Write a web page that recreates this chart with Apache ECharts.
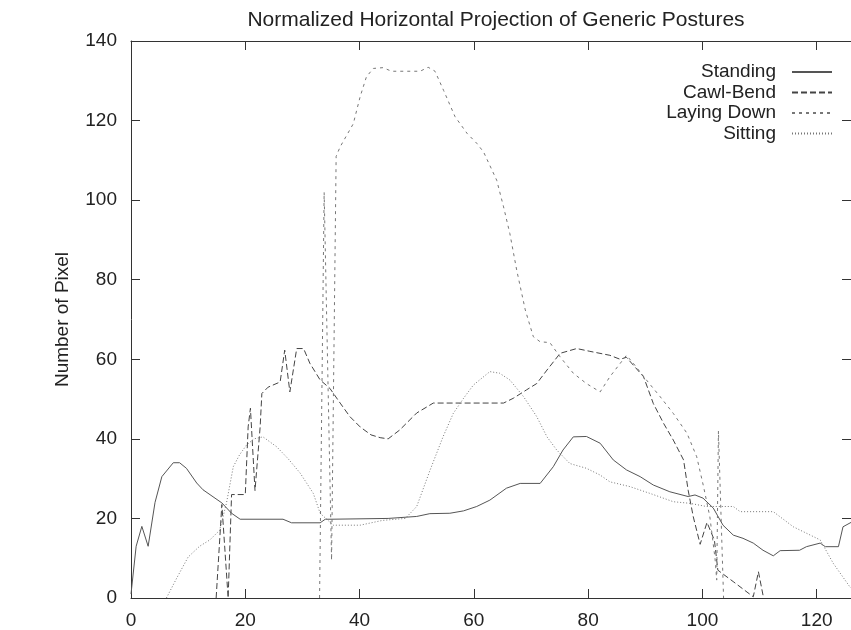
<!DOCTYPE html>
<html>
<head>
<meta charset="utf-8">
<script src="https://cdn.jsdelivr.net/npm/echarts@6/dist/echarts.min.js"></script>
<style>
html,body{margin:0;padding:0;background:#fff;}
#chart{width:851px;height:630px;}
</style>
</head>
<body>
<div id="chart"></div>
<script>
const titleText = 'Normalized Horizontal Projection of Generic Postures';
const yAxisName = 'Number of Pixel';
const seriesNames = ['Standing', 'Cawl-Bend', 'Laying Down', 'Sitting'];
const xTicks = [0, 20, 40, 60, 80, 100, 120];
const yTicks = [0, 20, 40, 60, 80, 100, 120, 140];

const standingX = [0, 0.9, 1.9, 3, 4.2, 5.4, 7.4, 8.5, 9.7, 11.5, 12.6, 15.9, 17.6, 19.1, 26.6, 28.1, 33.1, 34, 35, 45, 50, 52.3, 55.8, 58.2, 60.5, 62.8, 65.7, 68.1, 71.6, 73.9, 75.6, 77.4, 79.7, 82.1, 84.4, 86.7, 89.1, 91.4, 94.3, 97.5, 98.7, 100.1, 101.9, 103.6, 105.4, 107.1, 108.9, 110.6, 112.4, 113.6, 117, 118.2, 120.6, 121.5, 123.8, 124.6, 126];
const standingY = [1, 13, 18, 13, 24, 30.5, 34, 34, 32.6, 28.9, 27.2, 23.9, 21.3, 19.8, 19.8, 18.9, 18.9, 19.8, 19.8, 20, 20.5, 21.2, 21.3, 21.9, 23, 24.6, 27.6, 28.8, 28.8, 33, 37.2, 40.5, 40.6, 38.9, 34.7, 32.2, 30.5, 28.4, 26.7, 25.5, 25.9, 25.1, 22.6, 18.3, 15.8, 15, 13.8, 12, 10.6, 11.9, 12, 12.9, 13.8, 12.9, 12.9, 17.9, 19];

const cawlX = [14.9, 15.9, 17, 17.6, 20, 20.5, 20.9, 21.7, 22.6, 22.9, 24, 26.1, 26.9, 27.8, 29, 30.2, 31.3, 33.1, 34.8, 36.6, 38.3, 40.1, 42, 43.6, 45, 47, 50, 52.9, 56, 60, 65.2, 66.9, 69.2, 71, 72.8, 75.1, 78, 80.3, 83.8, 85.6, 86.7, 89.7, 91.4, 93.2, 94.9, 96.7, 97.5, 98.4, 99.6, 100.8, 102.1, 102.7, 105.5, 108.9, 109.8, 110.7];
const cawlY = [0, 23.5, 0, 26, 26, 43, 47.7, 27, 43, 51.4, 53, 54.3, 62.3, 51.8, 62.7, 62.7, 59, 54.8, 52.7, 49, 45.6, 43, 41, 40.3, 40, 42.2, 46.5, 49, 49, 49, 49, 50.2, 52.3, 53.9, 57.3, 61.5, 62.7, 62, 61, 60, 60.5, 55.6, 48.9, 43.9, 39.7, 34.7, 27.1, 20.4, 13.5, 19, 14.5, 7, 4, 0.3, 6.6, 0];

const layingX = [33, 33.8, 35.1, 35.9, 36.6, 38.9, 40.1, 41.2, 42.4, 44.1, 45.6, 50.6, 52, 53.2, 54.7, 56.7, 58.8, 60.5, 61.7, 64, 65.2, 66.3, 67.5, 69, 70.4, 71.6, 73.3, 75.1, 77.4, 79.7, 82.1, 83.8, 86.7, 87.9, 90.2, 92.6, 94.9, 97.3, 99, 100.2, 101.3, 102.2, 102.5, 102.8, 103.7];
const layingY = [0, 102, 9.5, 111, 113.4, 119.2, 126, 131, 133.1, 133.3, 132.4, 132.4, 133.4, 132.4, 127.6, 121, 116.8, 114.3, 112.1, 105, 98.3, 91.6, 82.4, 72.4, 65.7, 64.4, 64.2, 60.6, 56.5, 53.9, 51.8, 55.6, 61, 59, 54.8, 50.6, 46.4, 41.4, 35.5, 28, 20.4, 10, 4.5, 42, 0];

const sittingX = [6.2, 8, 10, 12, 13.8, 15.5, 16.7, 17.9, 19, 20.2, 21.5, 23.1, 25.5, 27.5, 29.6, 31.9, 33.1, 35.4, 40.1, 44, 48, 50, 52.3, 54.6, 56.4, 58.2, 59.9, 62.8, 64.5, 66.3, 68.7, 71, 72.8, 74.5, 76.8, 79.7, 82.1, 83.8, 87.3, 90.8, 94.9, 97.8, 100.7, 105.4, 106.6, 112.4, 115.9, 120.6, 122.9, 125.8, 126];
const sittingY = [0, 5, 10.3, 13, 14.6, 17, 23.8, 33, 36, 38.4, 40, 40.5, 38, 35, 31.4, 26.3, 21.3, 18.3, 18.3, 19.5, 20, 23, 32, 40.5, 46.4, 50.2, 53.5, 56.9, 56.5, 54.8, 50.6, 45.6, 40.5, 37.2, 33.8, 32.6, 30.9, 29.2, 28, 26.3, 24.2, 23.8, 23, 23, 21.7, 21.7, 17.9, 14.6, 8.7, 2.8, 2.5];

function pairs(xs, ys) { return xs.map((x, i) => [x, ys[i]]); }

const font = 'Liberation Sans, Arial, Helvetica, sans-serif';
const axisColor = '#333';
const tickCommon = { show: true, inside: true, length: 9, lineStyle: { color: axisColor, width: 1 } };

function xAxisDef(pos, showLabel) {
  return {
    type: 'value', position: pos, min: 0, max: 126, interval: 20,
    axisLine: { show: true, onZero: false, lineStyle: { color: axisColor, width: 1 } },
    axisTick: tickCommon,
    splitLine: { show: false },
    axisLabel: { show: showLabel, showMaxLabel: false, margin: 13, color: '#222', fontSize: 19, fontFamily: font }
  };
}
function yAxisDef(pos, showLabel) {
  return {
    type: 'value', position: pos, min: 0, max: 140, interval: 20,
    name: showLabel ? yAxisName : '', nameLocation: 'middle', nameGap: 59,
    nameTextStyle: { color: '#222', fontSize: 19, fontFamily: font },
    axisLine: { show: true, onZero: false, lineStyle: { color: axisColor, width: 1 } },
    axisTick: tickCommon,
    splitLine: { show: false },
    axisLabel: { show: showLabel, margin: 14, color: '#222', fontSize: 19, fontFamily: font }
  };
}

const styles = [
  { color: '#555', type: 'solid' },
  { color: '#444', type: [6, 3] },
  { color: '#777', type: [3, 4] },
  { color: '#777', type: [1, 2] }
];
const dataSets = [pairs(standingX, standingY), pairs(cawlX, cawlY), pairs(layingX, layingY), pairs(sittingX, sittingY)];

const chart = echarts.init(document.getElementById('chart'), null, { renderer: 'canvas' });
chart.setOption({
  animation: false,
  backgroundColor: '#fff',
  title: {
    text: titleText, left: 491, top: 5, textAlign: 'center',
    textStyle: { color: '#222', fontSize: 21, fontWeight: 'normal', fontFamily: font }
  },
  legend: {
    orient: 'vertical', align: 'right', right: 18, top: 62, padding: 0,
    itemWidth: 40, itemHeight: 4, itemGap: 0.5,
    itemStyle: { opacity: 0 },
    data: seriesNames,
    textStyle: { color: '#222', fontSize: 19, fontFamily: font, lineHeight: 20, padding: [0, 11, 0, 0] }
  },
  grid: { left: 131, top: 41, right: 0, bottom: 32, containLabel: false },
  xAxis: [xAxisDef('bottom', true), xAxisDef('top', false)],
  yAxis: [yAxisDef('left', true), yAxisDef('right', false)],
  series: seriesNames.map((n, i) => ({
    name: n, type: 'line', data: dataSets[i], symbol: 'none', smooth: false,
    xAxisIndex: 0, yAxisIndex: 0,
    lineStyle: { color: styles[i].color, width: 1, type: styles[i].type },
    itemStyle: { color: styles[i].color }
  }))
});
</script>
</body>
</html>
